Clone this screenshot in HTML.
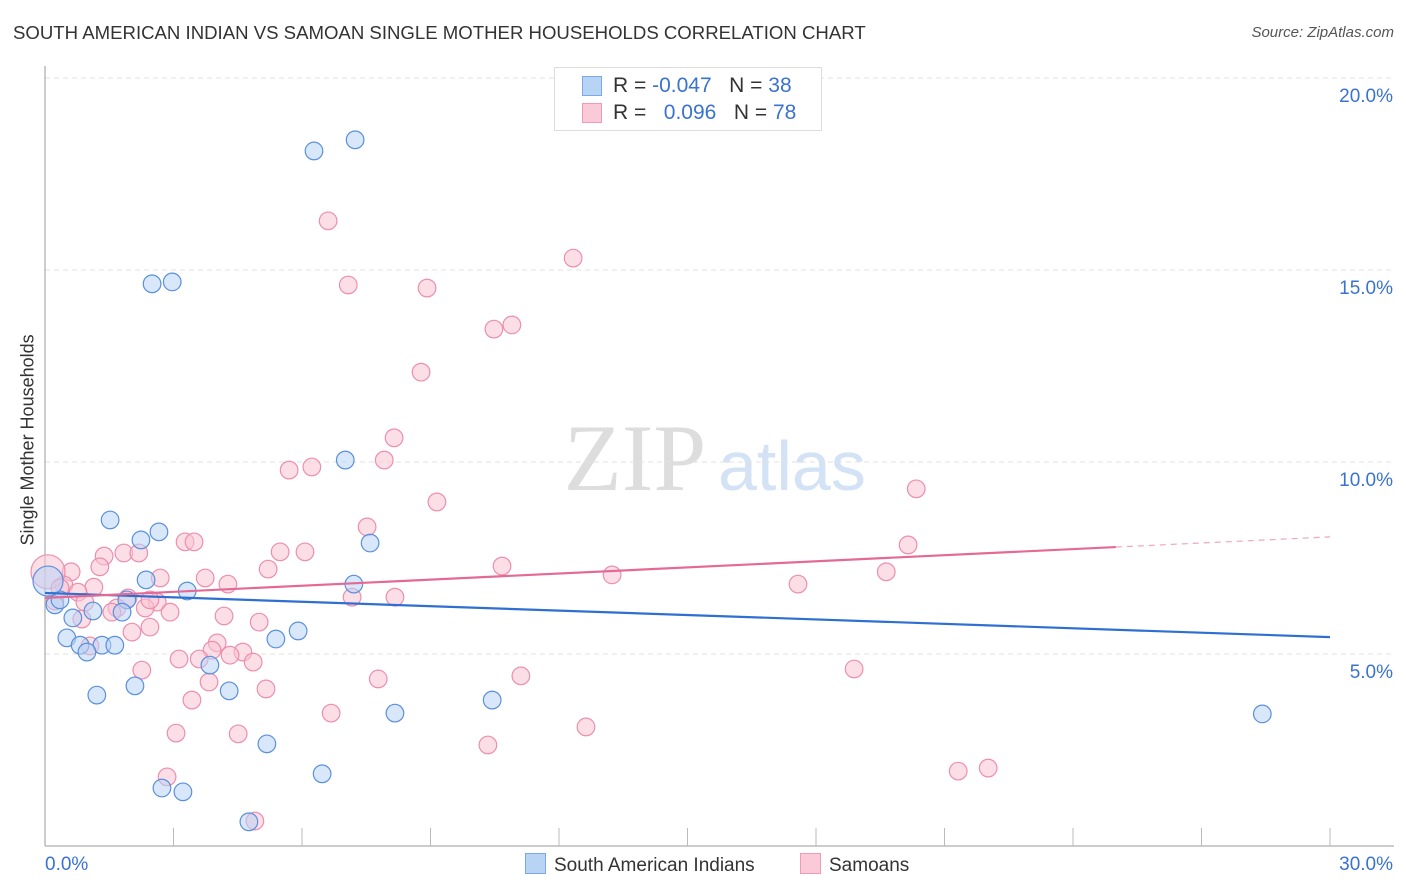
<!DOCTYPE html>
<html><head><meta charset="utf-8"><style>
body{margin:0;background:#fff;font-family:"Liberation Sans",sans-serif}
#wrap{position:relative;width:1406px;height:892px}
.t{position:absolute;white-space:nowrap}
</style></head><body>
<div id="wrap">
<div class="t" style="left:13px;top:22px;font-size:18.6px;color:#333">SOUTH AMERICAN INDIAN VS SAMOAN SINGLE MOTHER HOUSEHOLDS CORRELATION CHART</div>
<div class="t" style="right:12px;top:24px;font-size:15px;color:#555;font-style:italic">Source: ZipAtlas.com</div>
<div class="t" style="left:-62px;top:445px;font-size:18px;color:#333;transform:rotate(-90deg);transform-origin:center;width:180px;text-align:center">Single Mother Households</div>
<svg id="svg" width="1406" height="892" style="position:absolute;left:0;top:0"></svg>
<div style="position:absolute;left:554px;top:67px;width:266px;height:62px;border:1px solid #ddd;background:#fff;font-size:21px">
<div style="position:absolute;left:27px;top:8px;width:18px;height:18px;background:#b8d4f5;border:1px solid #7aa9e6"></div>
<div class="t" style="left:58px;top:6px;color:#333">R = <span style="color:#3a73cf">-0.047</span>&nbsp;&nbsp;&nbsp;N = <span style="color:#3a73cf">38</span></div>
<div style="position:absolute;left:27px;top:35px;width:18px;height:18px;background:#fbcad8;border:1px solid #f09ab5"></div>
<div class="t" style="left:58px;top:33px;color:#333">R = &nbsp;&nbsp;<span style="color:#3a73cf">0.096</span>&nbsp;&nbsp;&nbsp;N = <span style="color:#3a73cf">78</span></div>
</div>
<div style="position:absolute;left:525px;top:853px;font-size:19px;color:#333">
<span style="display:inline-block;width:19px;height:19px;background:#b8d4f5;border:1px solid #7aa9e6;vertical-align:-3px;margin-right:8px"></span>South American Indians</div>
<div style="position:absolute;left:800px;top:853px;font-size:19px;color:#333">
<span style="display:inline-block;width:19px;height:19px;background:#fbcad8;border:1px solid #f09ab5;vertical-align:-3px;margin-right:8px"></span>Samoans</div>
</div>
<script>
const xTicks=[0,3,6,9,12,15,18,21,24,27,30];
const yTicks=[5,10,15,20];
const yTickLabels=["5.0%","10.0%","15.0%","20.0%"];
const xTickLabels=["0.0%","30.0%"];
const blueX=[6.28,7.24,2.50,2.97,7.01,1.52,2.66,2.24,7.59,2.36,7.21,3.32,0.23,0.35,1.91,1.12,1.80,0.65,0.51,0.82,1.33,1.63,0.98,5.39,5.91,3.85,1.21,2.10,4.30,10.44,8.17,28.42,5.18,6.47,2.73,3.22,4.76,0.07];
const blueY=[18.10,18.39,14.64,14.69,10.05,8.49,8.18,7.97,7.89,6.93,6.82,6.64,6.28,6.41,6.41,6.12,6.09,5.94,5.42,5.23,5.23,5.23,5.05,5.39,5.60,4.71,3.93,4.17,4.04,3.80,3.46,3.44,2.66,1.88,1.51,1.41,0.63,6.90];
const pinkX=[6.61,12.33,7.08,8.92,10.48,10.90,8.78,8.15,7.92,5.70,6.23,9.15,20.34,7.52,20.15,1.38,1.84,2.19,3.27,3.48,5.49,6.07,10.67,5.21,0.61,1.28,19.64,13.24,17.58,2.69,3.74,4.27,0.44,1.14,0.77,7.17,8.17,1.94,2.62,0.23,0.93,1.68,2.34,2.92,1.56,4.18,5.00,2.45,0.86,2.03,4.02,1.05,4.62,4.32,3.90,3.13,3.60,4.86,2.26,18.89,11.11,7.78,3.83,5.16,3.43,6.68,12.63,3.06,4.51,10.34,21.32,22.02,2.85,4.90,0.07,0.35,2.45];
const pinkY=[16.28,15.31,14.61,14.53,13.46,13.57,12.34,10.63,10.05,9.79,9.87,8.96,9.30,8.31,7.84,7.55,7.63,7.63,7.92,7.92,7.66,7.66,7.29,7.21,7.14,7.27,7.14,7.06,6.82,6.98,6.98,6.82,6.80,6.74,6.61,6.48,6.48,6.46,6.35,6.38,6.35,6.20,6.20,6.09,6.09,5.99,5.83,5.70,5.91,5.57,5.29,5.21,5.05,4.97,5.10,4.87,4.87,4.79,4.58,4.61,4.43,4.35,4.27,4.09,3.80,3.46,3.10,2.94,2.92,2.63,1.95,2.03,1.80,0.65,7.14,6.72,6.41];
const blueTrend=[6.59,5.44];
const pinkTrend=[6.46,8.05];
const pinkSolidEnd=25;
const X=v=>45+v/30*1285, Y=v=>846-v*38.4;
const svg=document.getElementById('svg');const NS='http://www.w3.org/2000/svg';
function mk(t,a){const e=document.createElementNS(NS,t);for(const k in a)e.setAttribute(k,a[k]);svg.appendChild(e);return e;}
let e=mk('text',{x:635,y:490,'text-anchor':'middle','font-size':95,'font-family':'Liberation Serif',fill:'#ddd'});e.textContent='ZIP';


e=mk('text',{x:718,y:490,'font-size':70,'font-family':'Liberation Sans',fill:'#d3e2f5'});e.textContent='atlas';


yTicks.forEach((v,i)=>{
 let g=mk('line',{x1:45,x2:1394,y1:Y(v),y2:Y(v),stroke:'#e2e2e2','stroke-dasharray':'5,4'});
 
 
 let t=mk('text',{x:1393,y:Y(v)+24,'text-anchor':'end','font-size':19,fill:'#3a73cf'});t.textContent=yTickLabels[i];
 
 
});
let ax=mk('line',{x1:45,x2:45,y1:66,y2:846,stroke:'#bbb','stroke-width':1.5});


ax=mk('line',{x1:45,x2:1394,y1:846,y2:846,stroke:'#bbb','stroke-width':1.5});


xTicks.forEach(v=>{let t=mk('line',{x1:X(v),x2:X(v),y1:828,y2:846,stroke:'#bbb'});
 
 });
[[0,'start',45],[30,'end',1393]].forEach((a,i)=>{let t=mk('text',{x:a[2],y:870,'text-anchor':a[1],'font-size':19,fill:'#3a73cf'});t.textContent=xTickLabels[i];
 
 });
function pts(xs,ys,fill,stroke,name,bigR){xs.forEach((x,i)=>{const big=x<0.1;
 const c=mk('circle',{cx:X(x),cy:Y(ys[i]),r:big?bigR:8.8,fill:fill,'fill-opacity':0.55,stroke:stroke,'stroke-width':1.2});
 
 });}
pts(pinkX,pinkY,'#f9c3d3','#ec8fad','samoan-point',17);
pts(blueX,blueY,'#b8d4f5','#5a90dc','south-american-indian-point',15);
let l=mk('line',{x1:X(0),y1:Y(blueTrend[0]),x2:X(30),y2:Y(blueTrend[1]),stroke:'#2f6fd0','stroke-width':2.2});


const py=x=>pinkTrend[0]+(pinkTrend[1]-pinkTrend[0])*x/30;
l=mk('line',{x1:X(0),y1:Y(py(0)),x2:X(pinkSolidEnd),y2:Y(py(pinkSolidEnd)),stroke:'#e46a96','stroke-width':2.2});


l=mk('line',{x1:X(pinkSolidEnd),y1:Y(py(pinkSolidEnd)),x2:X(30),y2:Y(py(30)),stroke:'#e46a96','stroke-width':1.2,'stroke-dasharray':'6,5','stroke-opacity':0.6});


</script>
</body></html>
